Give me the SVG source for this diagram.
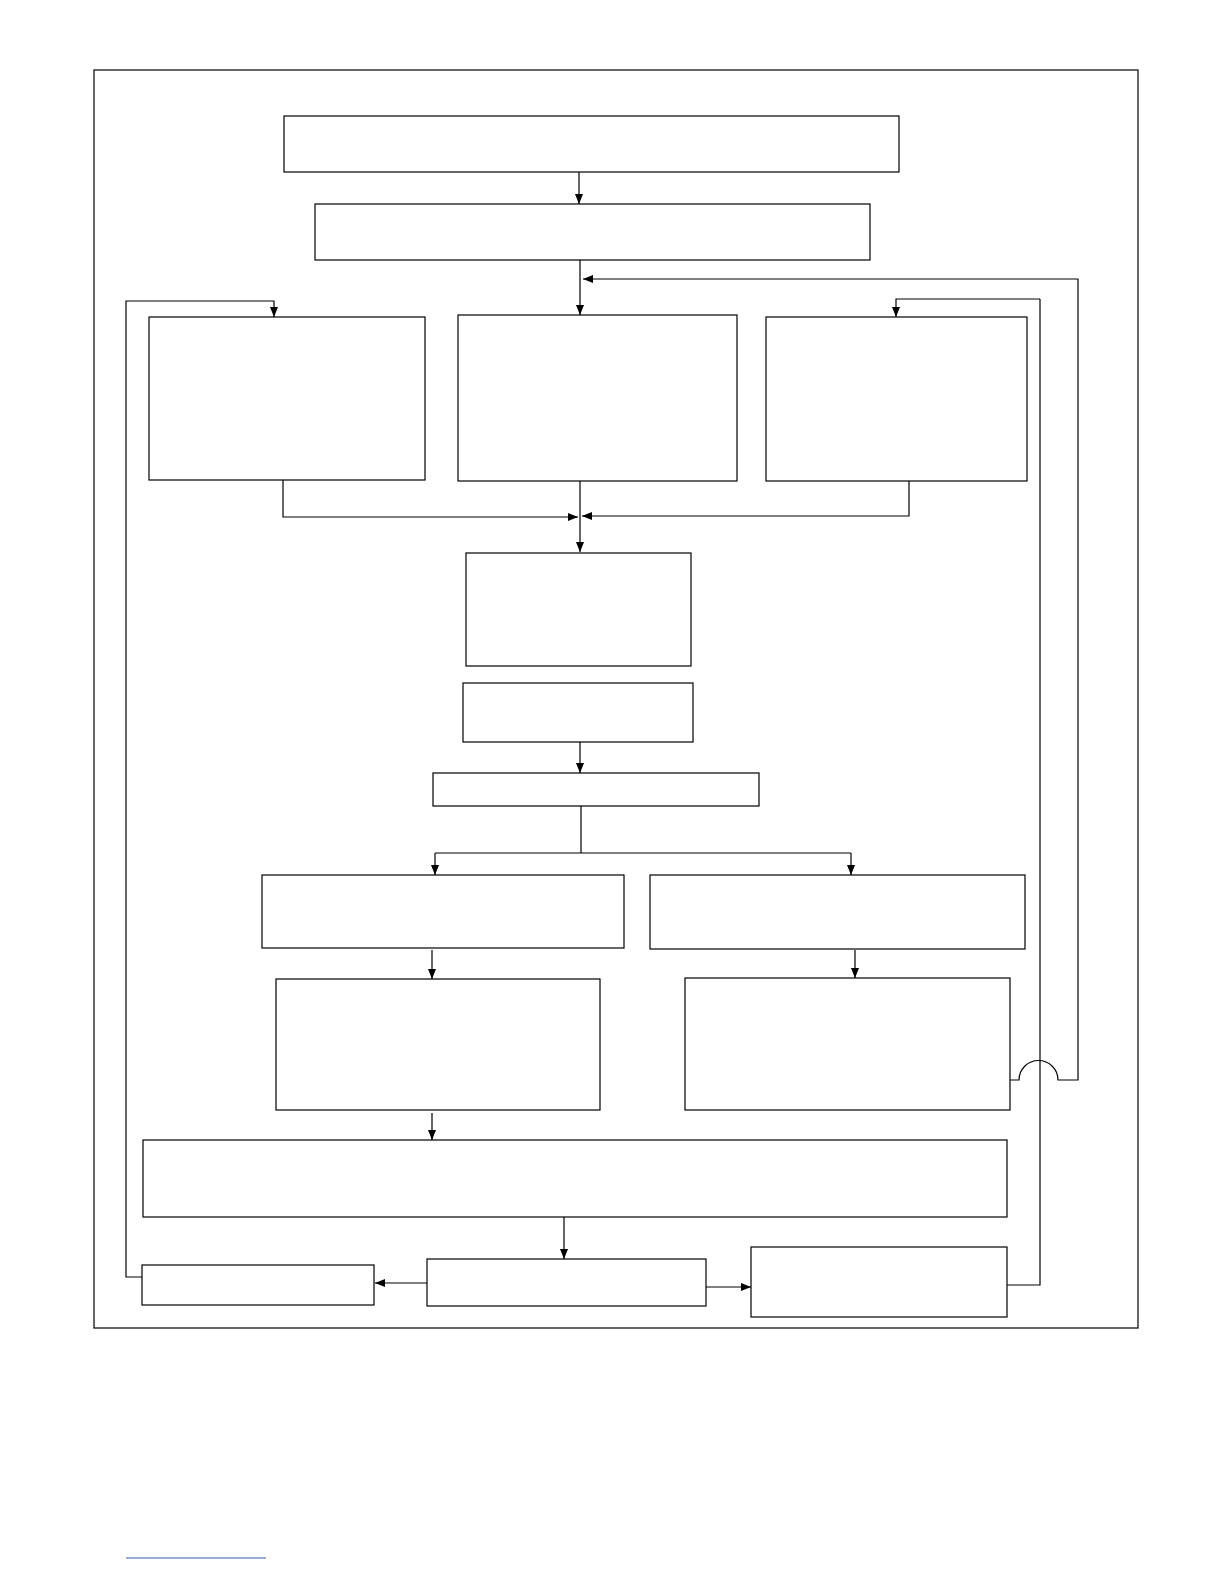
<svg xmlns="http://www.w3.org/2000/svg" width="1224" height="1584" viewBox="0 0 1224 1584">
<defs>
<marker id="ah" markerWidth="10" markerHeight="8" refX="10" refY="4" orient="auto" markerUnits="userSpaceOnUse"><path d="M0,0 L10,4 L0,8 Z" fill="#000"/></marker>
<style>.b{fill:#fff;stroke:#000;stroke-width:1.2}.c{fill:none;stroke:#000;stroke-width:1.2}.a{marker-end:url(#ah)}</style>
</defs>
<rect width="1224" height="1584" fill="#fff"/>
<rect id="frame" x="94" y="70" width="1044" height="1258" class="b"/>
<g id="connectors">
<path class="c a" d="M579,172 V204"/>
<path class="c a" d="M580,260 V315"/>
<path class="c a" d="M1010,1080 H1019 A19.5,19.5 0 0 1 1058,1080 H1078 V279 H583"/>
<path class="c" d="M1007,1285 H1040 V299"/>
<path class="c a" d="M1040,299 H896 V317"/>
<path class="c a" d="M142,1277 H126 V301 H274 V317"/>
<path class="c a" d="M283,480 V517 H578"/>
<path class="c a" d="M909,481 V516 H582"/>
<path class="c a" d="M580,481 V552"/>
<path class="c a" d="M580,742 V773"/>
<path class="c" d="M581,806 V853 M435,853 H851"/>
<path class="c a" d="M435,853 V875"/>
<path class="c a" d="M851,853 V875"/>
<path class="c a" d="M432,950 V979"/>
<path class="c a" d="M855,950 V978"/>
<path class="c a" d="M432,1113 V1140"/>
<path class="c a" d="M564,1217 V1259"/>
<path class="c a" d="M427,1283 H375"/>
<path class="c a" d="M706,1287 H751"/>
</g>
<rect id="n1" x="284" y="116" width="615" height="56" class="b"/>
<rect id="n2" x="315" y="204" width="555" height="56" class="b"/>
<rect id="nA" x="149" y="317" width="276" height="163" class="b"/>
<rect id="nB" x="458" y="315" width="279" height="166" class="b"/>
<rect id="nC" x="766" y="317" width="261" height="164" class="b"/>
<rect id="nD" x="466" y="553" width="225" height="113" class="b"/>
<rect id="nE" x="463" y="683" width="230" height="59" class="b"/>
<rect id="nF" x="433" y="773" width="326" height="33" class="b"/>
<rect id="nG" x="262" y="875" width="362" height="73" class="b"/>
<rect id="nH" x="650" y="875" width="375" height="74" class="b"/>
<rect id="nI" x="276" y="979" width="324" height="131" class="b"/>
<rect id="nJ" x="685" y="978" width="325" height="132" class="b"/>
<rect id="nK" x="143" y="1140" width="864" height="77" class="b"/>
<rect id="nL" x="427" y="1259" width="279" height="47" class="b"/>
<rect id="nM" x="142" y="1265" width="232" height="40" class="b"/>
<rect id="nN" x="751" y="1247" width="256" height="70" class="b"/>
<path d="M126,1558 H266" stroke="#3355aa" stroke-width="1"/>
</svg>
